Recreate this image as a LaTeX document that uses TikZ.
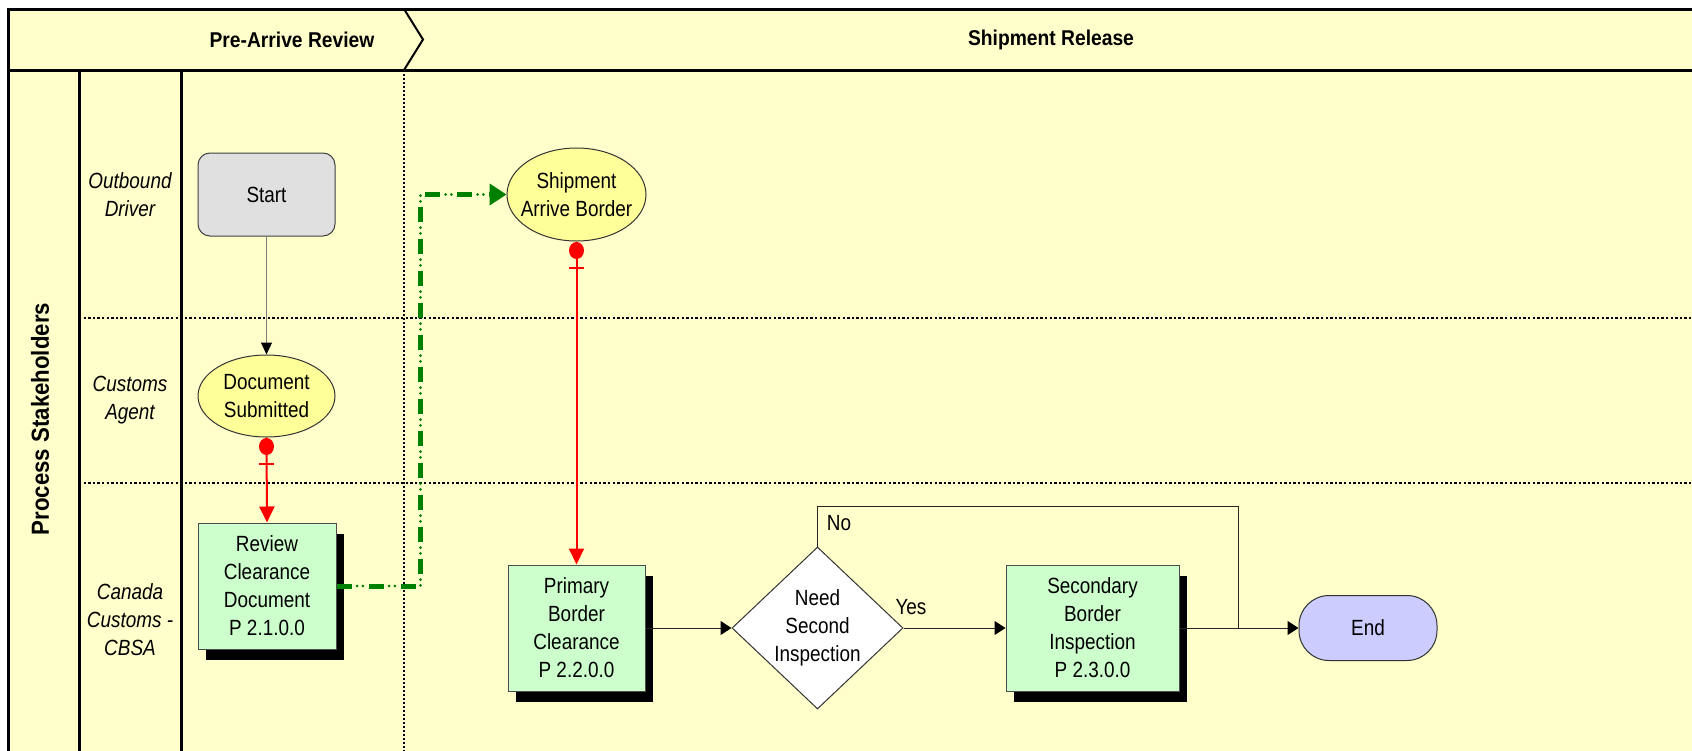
\documentclass[tikz,border=0pt]{standalone}
\usepackage{fontspec}
\setmainfont{Liberation Sans}[FakeStretch=0.86]
\newfontfamily\headfont{Liberation Sans}[FakeStretch=0.9]
\usetikzlibrary{arrows.meta,shapes.geometric,shadows,calc}

\definecolor{lanebg}{HTML}{FFFFCC}
\definecolor{evyellow}{HTML}{FFFF99}
\definecolor{procgreen}{HTML}{CCFFCC}
\definecolor{startgray}{HTML}{E0E0E0}
\definecolor{endblue}{HTML}{CCCCFF}
\definecolor{flowgreen}{HTML}{008000}
\definecolor{flowred}{HTML}{FF0000}

\tikzset{
  frameline/.style={line width=3pt, black},
  laneline/.style={line width=2.2pt, dash pattern=on 2.4pt off 2.2pt},
  phaseline/.style={line width=1.5pt, dash pattern=on 2pt off 2pt},
  txt/.style={font=\fontsize{22}{28}\selectfont, align=center},
  lanelabel/.style={txt, font=\itshape\fontsize{22}{28}\selectfont},
  headtext/.style={font=\headfont\bfseries\fontsize{21.4}{26}\selectfont},
  startbox/.style={txt, rectangle, rounded corners=12pt, draw=black!75, line width=1pt,
    fill=startgray, minimum width=137pt, minimum height=83pt},
  event/.style={txt, ellipse, draw=black!80, line width=1pt, fill=evyellow, inner sep=-15pt},
  procbox/.style={txt, rectangle, draw=black!70, line width=1pt, fill=procgreen,
    minimum height=126pt,
    drop shadow={shadow xshift=8pt, shadow yshift=-11pt, fill=black, opacity=1}},
  decision/.style={txt, diamond, draw=black!80, line width=1pt, fill=white,
    minimum width=171pt, minimum height=162pt, inner sep=-12pt},
  endbox/.style={txt, rectangle, rounded corners=30pt, draw=black!80, line width=1pt,
    fill=endblue, minimum width=138pt, minimum height=65pt},
  flow/.style={black!85, line width=1pt, -{Triangle[length=11pt,width=14pt,color=black]}},
  grayflow/.style={black!50, line width=1.2pt, -{Triangle[length=12pt,width=11pt,color=black]}},
  redflow/.style={flowred, line width=2pt, -{Triangle[length=16pt,width=15pt]}},
  reddot/.style={fill=flowred},
  redbar/.style={draw=flowred, line width=2pt},
  greenflow/.style={flowgreen, line width=5pt, dash pattern=on 15pt off 17pt,
    -{Triangle[length=17pt,width=21pt]},
    postaction={draw=flowgreen, line width=3pt, line cap=round,
      dash pattern=on 0pt off 5.6pt on 0pt off 26.4pt, dash phase=11.3pt, -}},
  lbl/.style={font=\fontsize{22}{28}\selectfont, inner sep=0pt}
}

\begin{document}
\begin{tikzpicture}[x=1pt,y=-1pt]
\useasboundingbox (0,0) rectangle (1692,750);
\clip (0,0) rectangle (1692,750);
\fill[white] (0,0) rectangle (1692,750);
\fill[lanebg] (8,9) rectangle (1710,770);

% lane and phase separators
\draw[laneline] (79,318) -- (1710,318);
\draw[laneline] (79,483) -- (1710,483);
\draw[phaseline] (404,70) -- (404,770);

% pool frame
\draw[frameline] (1710,9) -- (8,9) -- (8,770);
\draw[frameline] (8,70) -- (1710,70);
\draw[frameline] (79,70) -- (79,770);
\draw[frameline] (181,70) -- (181,770);
\draw[line width=2pt] (404,9) -- (423,39.5) -- (404,70);

% headers
\node[headtext] (phase1) at (292,40) {Pre-Arrive Review};
\node[headtext] (phase2) at (1051,40) {Shipment Release};
\node[font=\headfont\bfseries\fontsize{24.7}{30}\selectfont, rotate=90] (pool) at (40,419) {Process Stakeholders};

% lane labels
\node[lanelabel] (lane1) at (130,195) {Outbound\\Driver};
\node[lanelabel] (lane2) at (130,400) {Customs\\Agent};
\node[lanelabel] (lane3) at (130,620) {Canada\\Customs -\\CBSA};

% flow nodes
\node[startbox] (start) at (266.5,194.5) {Start};
\node[event, minimum width=137pt, minimum height=82pt] (docsub) at (266.5,396) {Document\\Submitted};
\node[procbox, minimum width=138pt] (review) at (267,586) {Review\\Clearance\\Document\\P 2.1.0.0};
\node[event, minimum width=139pt, minimum height=93pt] (ship) at (576.5,194.5) {Shipment\\Arrive Border};
\node[procbox, minimum width=137pt] (primary) at (576.5,628) {Primary\\Border\\Clearance\\P 2.2.0.0};
\node[decision] (decide) at (817.5,628) {Need\\Second\\Inspection};
\node[procbox, minimum width=173pt] (secondary) at (1092.5,628) {Secondary\\Border\\Inspection\\P 2.3.0.0};
\node[endbox] (finish) at (1368,628) {End};

% connectors
\draw[grayflow] (start.south) -- (docsub.north);

\draw[redflow] (docsub.south) -- (review.north);
\fill[reddot] ($(docsub.south)+(0,9)$) ellipse [x radius=7.5pt, y radius=8.5pt];
\draw[redbar] ($(docsub.south)+(-7.5,26)$) -- ($(docsub.south)+(7.5,26)$);

\draw[redflow] (ship.south) -- (primary.north);
\fill[reddot] ($(ship.south)+(0,9)$) ellipse [x radius=7.5pt, y radius=8.5pt];
\draw[redbar] ($(ship.south)+(-7.5,26)$) -- ($(ship.south)+(7.5,26)$);

\draw[greenflow] (review.east) -| ($(ship.west)+(-86,0)$) -- (ship.west);

\draw[flow] (primary.east) -- (decide.west);
\draw[flow] (decide.east) -- (secondary.west);
\draw[flow] (secondary.east) -- (finish.west);
\coordinate (noturn) at (1238,506);
\draw[black!85, line width=1pt] (decide.north) |- (noturn) -- (noturn |- finish.west);

\node[lbl] (yes) at (911,607) {Yes};
\node[lbl] (no) at (839,523) {No};
\end{tikzpicture}
\end{document}
